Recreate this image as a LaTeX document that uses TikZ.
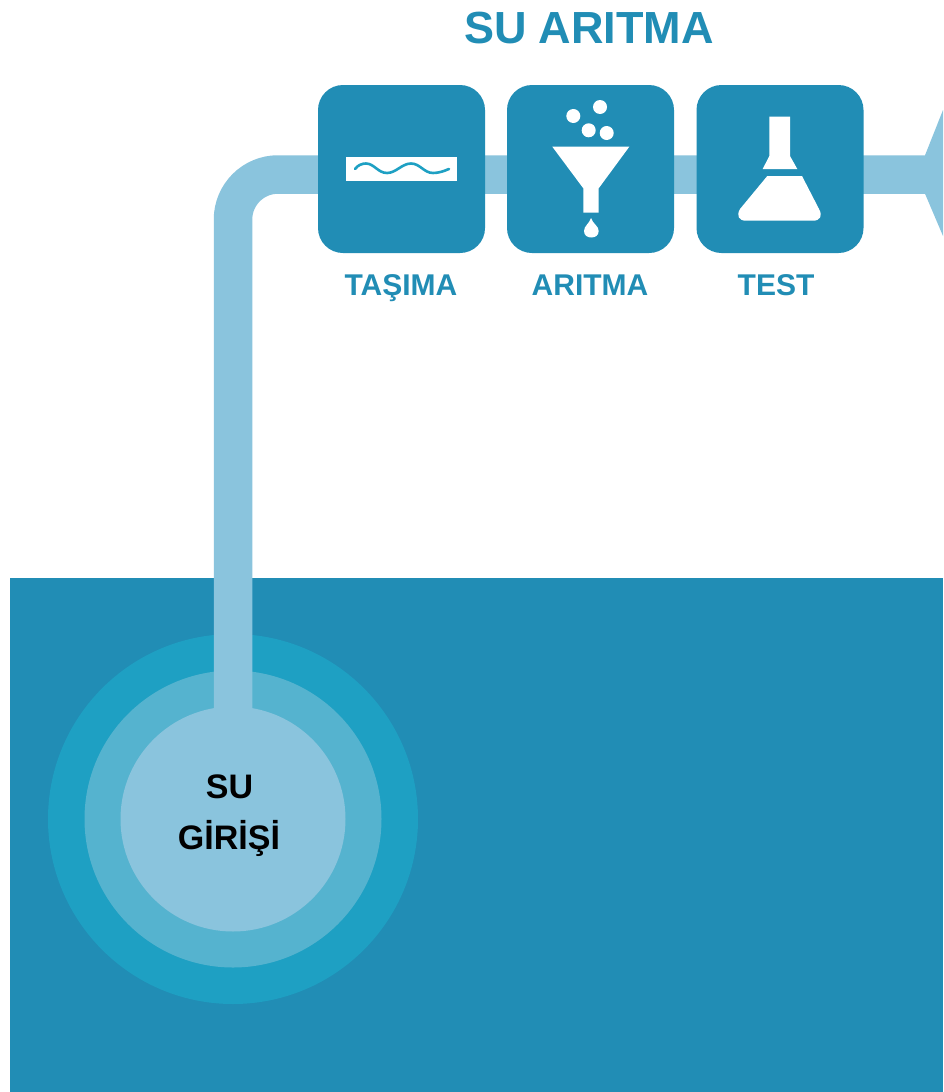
\documentclass[tikz,border=0pt]{standalone}
\usepackage{fontspec}
\setmainfont{Liberation Sans}
\definecolor{deepblue}{HTML}{218DB5}
\definecolor{pipeblue}{HTML}{8AC4DD}
\definecolor{ringone}{HTML}{1EA0C3}
\definecolor{ringtwo}{HTML}{55B3CF}
\tikzset{
  stagebox/.style={fill=deepblue,rounded corners=25pt,minimum width=167pt,minimum height=168pt,inner sep=0pt,draw=none},
  stagelabel/.style={text=deepblue,font=\bfseries\fontsize{30}{32}\selectfont,anchor=base,inner sep=0pt},
  inletlabel/.style={text=black,font=\bfseries\fontsize{34}{36}\selectfont,anchor=base,inner sep=0pt},
  icon/.style={fill=white,draw=none},
  pipe/.style={draw=pipeblue,line width=38.5pt,line cap=butt,rounded corners=45pt},
  disc/.style={circle,inner sep=0pt,draw=none}
}
\begin{document}
\begin{tikzpicture}[x=1pt,y=-1pt]
\useasboundingbox (0,0) rectangle (943,1092);
\fill[white] (0,0) rectangle (943,1092);
\fill[deepblue] (10,578) rectangle (943,1092);
% inlet rings
\node[disc,fill=ringone,minimum size=370pt] (ringa) at (233,819) {};
\node[disc,fill=ringtwo,minimum size=297pt] (ringb) at (233,819) {};
\node[disc,fill=pipeblue,minimum size=225pt] (inlet) at (233,819) {};
% pipe
\coordinate (pipestart) at (233,740);
\coordinate (pipecorner) at (233,174.5);
\coordinate (pipeend) at (933,174.5);
\draw[pipe] (pipestart) -- (pipecorner) -- (pipeend);
% right-hand arrow fragment
\fill[pipeblue] (943,110) -- (925,155.3) -- (925,193.7) -- (943,236) -- cycle;
% stage boxes
\node[stagebox] (tasima) at (401.5,169) {};
\node[stagebox] (aritma) at (590.5,169) {};
\node[stagebox] (test) at (780,169) {};
% conveying icon
\fill[icon] (346,157) rectangle (457,181);
\draw[ringone,line width=2.6pt,line cap=round] (355,169) .. controls (358,165) and (362,163.5) .. (366,163.5) .. controls (374,163.5) and (378,173) .. (387,173) .. controls (396,173) and (402,163.5) .. (411,163.5) .. controls (420,163.5) and (424,173) .. (433,173) .. controls (439,173) and (444,171) .. (449,169);
% funnel icon
\fill[icon] (552.3,146.7) -- (629.3,146.7) -- (598.7,188.3) -- (598.7,212.7) -- (583.3,212.7) -- (583.3,188.3) -- cycle;
\fill[icon] (573.3,116) circle[radius=7];
\fill[icon] (600,107) circle[radius=7];
\fill[icon] (588.7,130.3) circle[radius=7];
\fill[icon] (606.7,133) circle[radius=7];
\fill[icon] (591,218) .. controls (593,224) and (598.7,226) .. (598.7,231) .. controls (598.7,235.5) and (595,237.5) .. (591.3,237.5) .. controls (587.5,237.5) and (584,235.5) .. (584,231) .. controls (584,226) and (589,224) .. (591,218) -- cycle;
% flask icon
\fill[icon] (769.3,116.7) -- (790,116.7) -- (790,156) -- (797.3,169) -- (762.7,169) -- (769.3,156) -- cycle;
\fill[icon] (767.3,176) -- (802,176) -- (819,209) .. controls (823,216) and (820,220.7) .. (813,220.7) -- (746,220.7) .. controls (739,220.7) and (736,216) .. (740,209) -- cycle;
% labels
\node[text=deepblue,font=\bfseries\fontsize{45}{48}\selectfont,anchor=base,inner sep=0pt] (title) at (589,43) {SU ARITMA};
\node[stagelabel] (ltasima) at (401,295) {TAŞIMA};
\node[stagelabel] (laritma) at (590,295) {ARITMA};
\node[stagelabel] (ltest) at (776,295) {TEST};
\node[inletlabel] (lsu) at (229.5,798) {SU};
\node[inletlabel] (lgirisi) at (229,849) {GİRİŞİ};
\end{tikzpicture}
\end{document}
